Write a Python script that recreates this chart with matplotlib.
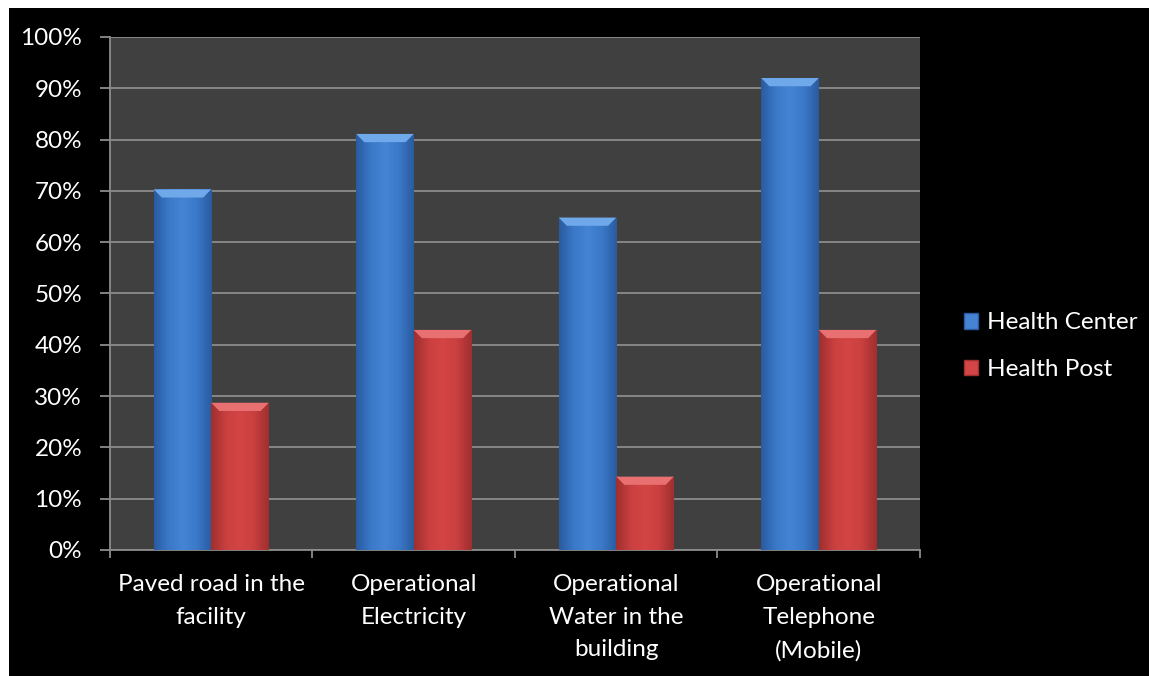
import numpy as np
import matplotlib
matplotlib.use("Agg")
import matplotlib.pyplot as plt
from matplotlib.patches import Rectangle, Polygon, Patch
from matplotlib.colors import LinearSegmentedColormap

# data
categories = ["Paved road in the\nfacility", "Operational\nElectricity",
              "Operational\nWater in the\nbuilding", "Operational\nTelephone\n(Mobile)"]
health_center = [70.3, 81.1, 64.8, 92.0]
health_post = [28.7, 42.9, 14.3, 42.9]
series_names = ["Health Center", "Health Post"]
y_ticks = [0, 10, 20, 30, 40, 50, 60, 70, 80, 90, 100]

plt.rcParams['font.family'] = ['Lato', 'DejaVu Sans']

fig = plt.figure(figsize=(11.49, 6.76), dpi=100, facecolor="white")
# black chart area with a thin white margin on top/left
fig.patches.append(Rectangle((9 / 1149, 0), 1, 1 - 8 / 676, transform=fig.transFigure,
                             facecolor="black", edgecolor="none", zorder=-5))

ax = fig.add_axes([0.0957, 0.1864, 0.705, 0.7589])
ax.set_facecolor("#404040")

x = np.arange(len(categories))
w = 0.284

blue_cmap = LinearSegmentedColormap.from_list("b", ["#2a5ba0", "#3a78c8", "#4584d4", "#3a78c8", "#2a5ba0"])
red_cmap = LinearSegmentedColormap.from_list("r", ["#a02f2f", "#c93f3f", "#d44545", "#c93f3f", "#a02f2f"])
grad = np.linspace(0, 1, 64).reshape(1, -1)

def draw_bars(xs, vals, cmap, bevel_col):
    bars = ax.bar(xs, vals, width=w, color=cmap(0.5), edgecolor="none", zorder=3)
    for b in bars:
        x0, y0 = b.get_x(), b.get_y()
        bw, bh = b.get_width(), b.get_height()
        im = ax.imshow(grad, cmap=cmap, aspect="auto", extent=[x0, x0 + bw, y0, y0 + bh],
                       zorder=3.5, interpolation="bicubic")
        im.set_clip_path(b)
        # bevelled top cap
        bev_h = 1.6
        ins = 0.04
        top = y0 + bh
        ax.add_patch(Polygon([[x0, top], [x0 + bw, top], [x0 + bw - ins, top - bev_h],
                              [x0 + ins, top - bev_h]], closed=True,
                             facecolor=bevel_col, edgecolor="none", zorder=4))
    return bars

draw_bars(x - w / 2, health_center, blue_cmap, "#6fa9ea")
draw_bars(x + w / 2, health_post, red_cmap, "#e87070")

ax.set_xlim(-0.5, len(categories) - 0.5)
ax.set_ylim(0, 100)

ax.set_yticks(y_ticks)
ax.set_yticklabels([f"{t}%" for t in y_ticks])
ax.yaxis.grid(True, color="#8c8c8c", linewidth=1.3, zorder=1)
ax.set_axisbelow(True)

ax.set_xticks(x)
ax.set_xticklabels(categories, linespacing=1.7)
ax.set_xticks(np.arange(len(categories) + 1) - 0.5, minor=True)
ax.tick_params(axis="x", which="major", length=0, pad=17, labelsize=17.5, colors="white")
ax.tick_params(axis="x", which="minor", length=6, width=1.3, color="#8c8c8c")
ax.tick_params(axis="y", length=7, width=1.3, color="#8c8c8c", pad=13, labelsize=17.5, labelcolor="white")

for side in ["top", "right"]:
    ax.spines[side].set_visible(False)
for side in ["left", "bottom"]:
    ax.spines[side].set_color("#8c8c8c")
    ax.spines[side].set_linewidth(1.3)

handles = [Patch(facecolor="#4584d4", edgecolor="#2a5ba0"),
           Patch(facecolor="#d44545", edgecolor="#a02f2f")]
fig.legend(handles, series_names, loc="center left", bbox_to_anchor=(0.828, 0.488),
           frameon=False, fontsize=17.5, labelcolor="white", handlelength=0.6,
           handleheight=0.6, handletextpad=0.35, labelspacing=1.05, borderpad=0)

fig.savefig("out.png", dpi=100, facecolor="white")
